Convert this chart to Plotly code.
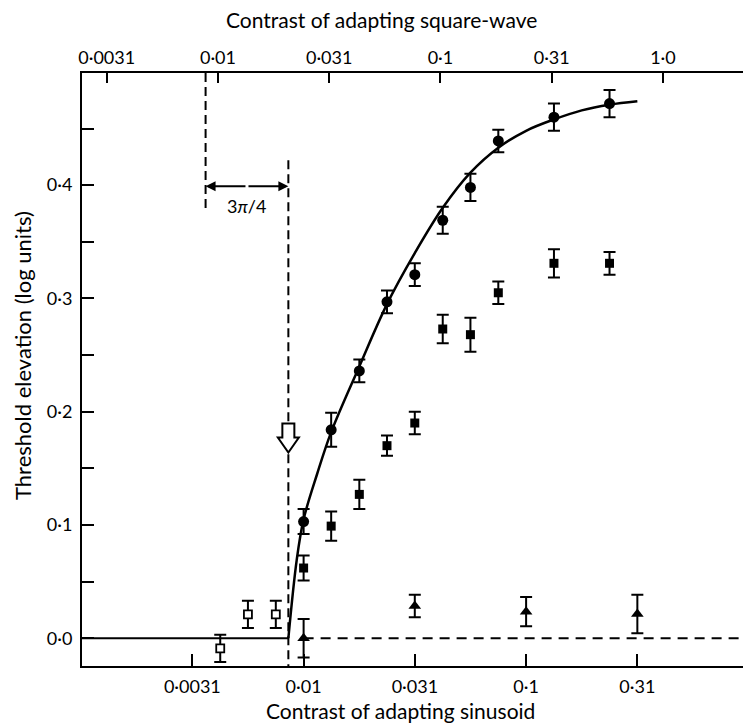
import math
import plotly.graph_objects as go

# ---------------- data ----------------
# bottom axis: contrast of adapting sinusoid; top axis: square-wave contrast
bottom_tick_exp = [-2.5, -2.0, -1.5, -1.0, -0.5]
bottom_tick_text = ["0·0031", "0·01", "0·031", "0·1", "0·31"]
top_tick_exp = [-2.5, -2.0, -1.5, -1.0, -0.5, 0.0]
top_tick_text = ["0·0031", "0·01", "0·031", "0·1", "0·31", "1·0"]
y_tick_vals = [0.0, 0.05, 0.1, 0.15, 0.2, 0.25, 0.3, 0.35, 0.4, 0.45]
y_tick_text = ["0·0", "", "0·1", "", "0·2", "", "0·3", "", "0·4", ""]

# filled circles
circle_x = [0.0100, 0.0133, 0.0178, 0.0237, 0.0316, 0.0422, 0.0562, 0.0750, 0.1334, 0.2371]
circle_y = [0.103, 0.184, 0.236, 0.297, 0.321, 0.369, 0.398, 0.439, 0.460, 0.472]
circle_err = [0.011, 0.015, 0.010, 0.010, 0.010, 0.012, 0.012, 0.010, 0.012, 0.012]

# filled squares
square_x = [0.0100, 0.0133, 0.0178, 0.0237, 0.0316, 0.0422, 0.0562, 0.0750, 0.1334, 0.2371]
square_y = [0.062, 0.099, 0.127, 0.170, 0.190, 0.273, 0.268, 0.305, 0.331, 0.331]
square_err = [0.011, 0.013, 0.013, 0.009, 0.010, 0.0125, 0.015, 0.010, 0.0125, 0.010]

# open squares
open_x = [0.00422, 0.00562, 0.00750]
open_y = [-0.009, 0.021, 0.021]
open_err = [0.012, 0.012, 0.012]

# filled triangles
tri_x = [0.0100, 0.0316, 0.1000, 0.3162]
tri_y = [0.000, 0.0285, 0.0235, 0.0215]
tri_err = [0.017, 0.010, 0.013, 0.017]

# fitted curve
curve_x = [0.00854, 0.00931, 0.0100, 0.0115, 0.0133, 0.0178, 0.0237, 0.0316,
           0.0422, 0.0562, 0.0750, 0.1000, 0.1334, 0.1778, 0.2371, 0.3162]
curve_y = [0.000, 0.069, 0.105, 0.145, 0.182, 0.240, 0.295, 0.340,
           0.380, 0.411, 0.433, 0.448, 0.458, 0.466, 0.471, 0.474]

sin_threshold = 0.00854      # sinusoid threshold (bottom axis)
sq_threshold = 0.0088        # square-wave threshold (top axis)
top_shift_dec = 0.385        # top axis = bottom axis * 3pi/4 (approx, in decades)
x_min_exp = -2.996
x_span_dec = 661 / 222.5
y_range = [-0.0245, 0.499]
baseline_left = 0.001
baseline_right = 1.0
arrow_level = 0.399
label_level = 0.382
sin_line_top = 0.422
sq_line_bottom = 0.378
hollow_arrow_tip = 0.164

FONT = "Lato"
BLACK = "black"

fig = go.Figure()

# solid baseline left of threshold
fig.add_trace(go.Scatter(x=[baseline_left, sin_threshold], y=[0, 0], mode="lines",
                         line=dict(color=BLACK, width=2), hoverinfo="skip"))
# dashed baseline right of 0.01
fig.add_trace(go.Scatter(x=[0.01, baseline_right], y=[0, 0], mode="lines",
                         line=dict(color=BLACK, width=2, dash="10px,7px"), hoverinfo="skip"))
# vertical dashed line at sinusoid threshold
fig.add_trace(go.Scatter(x=[sin_threshold, sin_threshold], y=[sin_line_top, y_range[0]],
                         mode="lines", line=dict(color=BLACK, width=2, dash="9px,5px"),
                         hoverinfo="skip"))
# vertical dashed line at square-wave threshold (top axis)
fig.add_trace(go.Scatter(x=[sq_threshold, sq_threshold], y=[y_range[1], sq_line_bottom],
                         mode="lines", line=dict(color=BLACK, width=2, dash="9px,5px"),
                         xaxis="x2", hoverinfo="skip"))
# curve
fig.add_trace(go.Scatter(x=curve_x, y=curve_y, mode="lines",
                         line=dict(color=BLACK, width=2.5, shape="spline", smoothing=1.0),
                         hoverinfo="skip"))

err_style = dict(type="data", visible=True, color=BLACK, thickness=2, width=6)

fig.add_trace(go.Scatter(x=square_x, y=square_y, mode="markers",
                         error_y=dict(array=square_err, **err_style),
                         marker=dict(symbol="square", size=9, color=BLACK)))
fig.add_trace(go.Scatter(x=tri_x, y=tri_y, mode="markers",
                         error_y=dict(array=tri_err, **err_style),
                         marker=dict(symbol="triangle-up", size=11, color=BLACK)))
fig.add_trace(go.Scatter(x=open_x, y=open_y, mode="markers",
                         error_y=dict(array=open_err, **err_style),
                         marker=dict(symbol="square", size=8, color="white",
                                     line=dict(color=BLACK, width=1.8))))
fig.add_trace(go.Scatter(x=circle_x, y=circle_y, mode="markers",
                         error_y=dict(array=circle_err, **err_style),
                         marker=dict(symbol="circle", size=11, color=BLACK)))

# double-headed arrow between the thresholds (top-axis coords, log units for annotations)
left_log = math.log10(sq_threshold)
right_log = math.log10(sin_threshold) + top_shift_dec
mid_log = (left_log + right_log) / 2
for end in (left_log, right_log):
    fig.add_annotation(x=end, y=arrow_level, ax=mid_log, ay=arrow_level,
                       xref="x2", yref="y", axref="x2", ayref="y", text="",
                       showarrow=True, arrowhead=2, arrowsize=1, arrowwidth=2,
                       arrowcolor=BLACK, standoff=0, startstandoff=0)
fig.add_annotation(x=mid_log, y=label_level, xref="x2", yref="y",
                   text="3<i>π</i>/4", showarrow=False,
                   font=dict(family=FONT, size=18, color=BLACK))

# hollow down arrow at threshold (shape anchored in data units, path in pixels)
fig.add_shape(type="path", xref="x", yref="y", xsizemode="pixel", ysizemode="pixel",
              xanchor=sin_threshold, yanchor=hollow_arrow_tip,
              path="M -6,29 L 6,29 L 6,15 L 10.5,15 L 0,0 L -10.5,15 L -6,15 Z",
              fillcolor="white", line=dict(color=BLACK, width=2), layer="above")

# axis titles as annotations
title_font = dict(family=FONT, size=21, color=BLACK)
fig.add_annotation(x=(381 - 82) / 661, y=(666 - 19) / 593, xref="paper", yref="paper",
                   xanchor="center", yanchor="middle",
                   text="Contrast of adapting square-wave", showarrow=False, font=title_font)
fig.add_annotation(x=(400 - 82) / 661, y=(666 - 710) / 593, xref="paper", yref="paper",
                   xanchor="center", yanchor="middle",
                   text="Contrast of adapting sinusoid", showarrow=False, font=title_font)
fig.add_annotation(x=(22 - 82) / 661, y=(666 - 356) / 593, xref="paper", yref="paper",
                   xanchor="center", yanchor="middle",
                   text="Threshold elevation (log units)", showarrow=False, textangle=-90,
                   font=dict(family=FONT, size=22, color=BLACK))

tickfont = dict(family=FONT, size=18, color=BLACK)
x_range = [x_min_exp, x_min_exp + x_span_dec]

fig.update_layout(
    width=743, height=724,
    margin=dict(l=82, r=0, t=73, b=58, pad=0),
    paper_bgcolor="white", plot_bgcolor="white",
    showlegend=False,
    xaxis=dict(type="log", range=x_range,
               tickvals=[10 ** e for e in bottom_tick_exp], ticktext=bottom_tick_text,
               ticks="inside", ticklen=12, tickwidth=2, tickcolor=BLACK,
               showline=True, linecolor=BLACK, linewidth=2, mirror=False,
               showgrid=False, zeroline=False, tickfont=tickfont, ticklabelstandoff=3),
    xaxis2=dict(type="log", overlaying="x", side="top", anchor="y",
                range=[x_range[0] + top_shift_dec, x_range[1] + top_shift_dec],
                tickvals=[10 ** e for e in top_tick_exp], ticktext=top_tick_text,
                ticks="inside", ticklen=10, tickwidth=2, tickcolor=BLACK,
                showline=True, linecolor=BLACK, linewidth=2,
                showgrid=False, zeroline=False, tickfont=tickfont),
    yaxis=dict(range=y_range, tickvals=y_tick_vals, ticktext=y_tick_text,
               ticks="inside", ticklen=12, tickwidth=2, tickcolor=BLACK,
               showline=True, linecolor=BLACK, linewidth=2,
               showgrid=False, zeroline=False, tickfont=tickfont, ticklabelstandoff=4),
    yaxis2=dict(range=y_range, overlaying="y", side="right", anchor="x",
                tickvals=y_tick_vals, showticklabels=False,
                ticks="inside", ticklen=8, tickwidth=2, tickcolor=BLACK,
                showline=False, showgrid=False, zeroline=False),
)

fig.write_html("out.html")
